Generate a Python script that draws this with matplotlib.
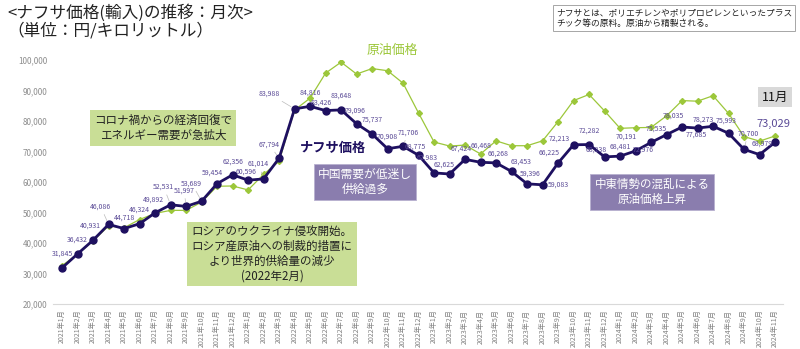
import matplotlib
matplotlib.use("Agg")
import matplotlib.pyplot as plt

plt.rcParams['font.family'] = ['Noto Sans CJK JP', 'DejaVu Sans']

# months 2021/1 .. 2024/11
months = [f"{y}年{m}月" for y in range(2021, 2025) for m in range(1, 13)][:47]

naphtha = [31845, 36432, 40931, 46086, 44718, 46324, 49892, 52531, 51997, 53689, 59454, 62356,
           60596, 61014, 67794, 83988, 84816, 83426, 83648, 79096, 75737, 70908, 71706, 68775,
           62983, 62625, 67424, 66468, 66268, 63453, 59396, 59083, 66225, 72213, 72282, 68238,
           68481, 70191, 72976, 75535, 78035, 77685, 78273, 75993, 70700, 68979, 73029]

crude = [32600, 36300, 40700, 45600, 45000, 47700, 49700, 50700, 50700, 53400, 58600, 58700,
         57400, 62500, 66800, 83600, 87500, 95700, 99300, 95400, 97200, 96500, 92400, 82600,
         73100, 71800, 72100, 69200, 73500, 71900, 71900, 73500, 79800, 86700, 88700, 83300,
         77600, 77800, 77900, 81700, 86700, 86500, 88300, 82500, 74900, 73400, 75100]

yticks = [20000, 30000, 40000, 50000, 60000, 70000, 80000, 90000, 100000]

# label offsets in pixels (dx, dy) and whether a leader line is drawn
label_off = [(0, 14), (0, 14), (-3, 14), (-8, 18), (0, 11), (0, 14), (-2, 13), (-7, 18), (-2, 16),
             (-10, 18), (-5, 11), (0, 13), (-2, 9), (-5, 15), (-10, 14), (-25, 15), (0, 14), (-4, 8),
             (0, 14), (-1, 13), (0, 14), (0, 12), (5, 14), (-3, 9), (-7, 15), (-5, 9), (-4, 11),
             (1, 17), (2, 9), (9, 10), (3, 10), (16, 0), (-9, 10), (-14, 6), (0, 14), (-8, 7),
             (0, 9), (-9, 14), (-8, -7), (-10, 6), (-9, 11), (-1, -7), (-10, 7), (-2, 13), (4, 16),
             (3, 11), (-2, 18)]
leaders = {3, 7, 8, 9, 13, 14, 15, 22, 44}

navy = '#1E1060'
lab_col = '#5A4A96'
green = '#9CC73A'

fig = plt.figure(figsize=(8, 3.49), dpi=100)
ax = fig.add_axes([0.066, 0.129, 0.9125, 0.699])

x = list(range(len(months)))
ax.plot(x, crude, color=green, lw=0.9, marker='D', ms=3, zorder=2)
ax.plot(x, naphtha, color=navy, lw=2, marker='o', ms=5, zorder=3)

for i, v in enumerate(naphtha):
    dx, dy = label_off[i]
    big = i == len(naphtha) - 1
    kw = {}
    if i in leaders:
        kw['arrowprops'] = dict(arrowstyle='-', color='#BBBBBB', lw=0.5, shrinkA=1, shrinkB=3)
    ax.annotate(f"{v:,}", (i, v), xytext=(dx, dy), textcoords='offset pixels',
                ha='center', va='center', fontsize=8 if big else 5, color=lab_col, zorder=4, **kw)

ax.set_xlim(-0.6, 46.5)
ax.set_ylim(20000, 100000)
ax.set_yticks(yticks)
ax.set_yticklabels([f"{t:,}" for t in yticks], fontsize=5.8, color='#8C8C8C')
ax.set_xticks(x)
ax.set_xticklabels(months, rotation=90, fontsize=5.1, color='#808080')
ax.tick_params(length=0, pad=4)
for s in ['top', 'right', 'left']:
    ax.spines[s].set_visible(False)
ax.spines['bottom'].set_color('#D9D9D9')


def ft(px, py, s, **kw):
    fig.text(px / 800, 1 - py / 349, s, **kw)


ft(7, 13, "<ナフサ価格(輸入)の推移：月次>", fontsize=12, va='center', color='#222222')
ft(7, 31, "（単位：円/キロリットル）", fontsize=12, va='center', color='#222222')
ft(556, 18, "ナフサとは、ポリエチレンやポリプロピレンといったプラス\nチック等の原料。原油から精製される。",
   fontsize=6.3, va='center', linespacing=1.3, color='#222222',
   bbox=dict(boxstyle='square,pad=0.35', fc='white', ec='#A6A6A6', lw=0.7))

ft(163, 128, "コロナ禍からの経済回復で\nエネルギー需要が急拡大", fontsize=8.3, ha='center', va='center',
   linespacing=1.2, color='#222222', bbox=dict(boxstyle='square,pad=0.35', fc='#C9DE96', ec='none'))
ft(272, 254, "ロシアのウクライナ侵攻開始。\nロシア産原油への制裁的措置に\nより世界的供給量の減少\n(2022年2月)",
   fontsize=8.3, ha='center', va='center', linespacing=1.15, color='#222222',
   bbox=dict(boxstyle='square,pad=0.35', fc='#C9DE96', ec='none'))
ft(365, 182, "中国需要が低迷し\n供給過多", fontsize=8.5, ha='center', va='center', linespacing=1.15,
   color='white', bbox=dict(boxstyle='square,pad=0.35', fc='#8A7DAE', ec='#B8B0D0', lw=0.6))
ft(652, 192, "中東情勢の混乱による\n原油価格上昇", fontsize=8.3, ha='center', va='center', linespacing=1.15,
   color='white', bbox=dict(boxstyle='square,pad=0.35', fc='#8A7DAE', ec='#B8B0D0', lw=0.6))

ft(333, 148, "ナフサ価格", fontsize=9.5, fontweight='bold', ha='center', va='center', color=navy)
ft(392, 50, "原油価格", fontsize=9.3, ha='center', va='center', color=green)
ft(775, 97, "11月", fontsize=9, ha='center', va='center', color='#111111',
   bbox=dict(boxstyle='square,pad=0.3', fc='#D9D9D9', ec='none'))

fig.savefig("out.png", dpi=100)
